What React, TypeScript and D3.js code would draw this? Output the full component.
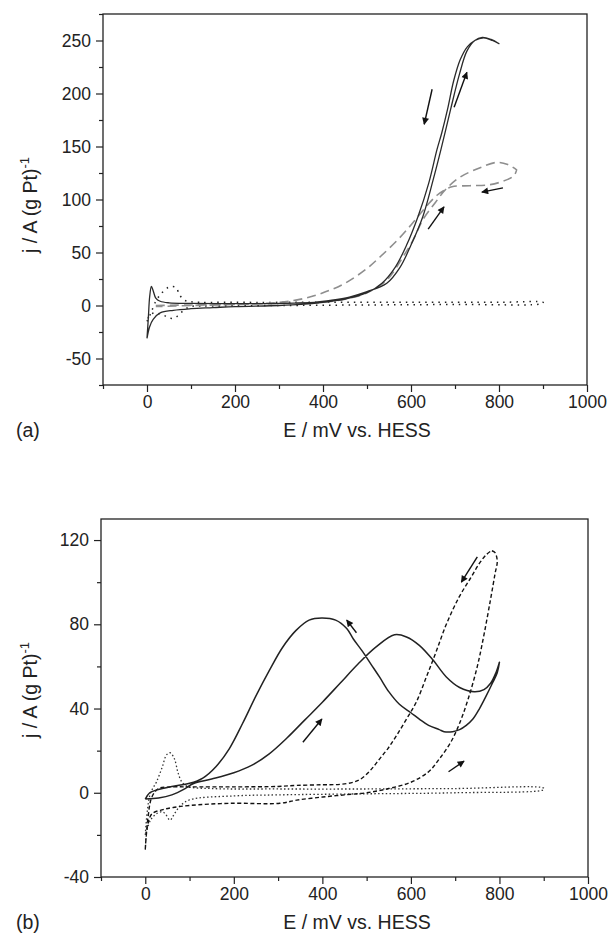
import { useEffect, useRef } from 'react';
import * as d3 from 'd3';

type Pt = [number, number];

// ---- panel (a) : E (mV), j (A/g Pt) ----
const aSolidFwd: Pt[] = [[0, -31], [3, -12], [6, 8], [10, 18], [14, 14], [20, 7], [30, 4], [50, 2.5], [100, 2], [200, 1.8], [300, 2], [380, 3], [420, 5], [460, 8], [500, 13], [545, 21], [575, 36], [600, 57], [627, 84], [650, 118], [668, 147], [690, 185], [710, 218], [727, 240], [745, 250], [762, 253], [782, 251], [800, 247]];
const aSolidBwd: Pt[] = [[800, 247], [785, 250], [765, 252.5], [745, 250], [728, 244], [712, 232], [697, 212], [683, 185], [670, 163], [659, 147], [640, 115], [616, 84], [590, 57], [564, 36], [534, 21], [500, 12], [450, 6], [400, 3], [350, 1], [300, 0], [200, -1], [150, -2], [100, -3], [60, -4.5], [30, -7], [14, -13], [6, -20], [0, -31]];
const aDashFwd: Pt[] = [[20, 0], [100, 0.5], [200, 1], [300, 2], [400, 3], [450, 6], [500, 12], [545, 24], [582, 46], [605, 62], [627, 81], [655, 97], [680, 110], [711, 121], [757, 130], [795, 135], [820, 133], [840, 128]];
const aDashBwd: Pt[] = [[840, 128], [835, 123], [820, 119], [780, 114], [734, 113], [693, 112], [673, 108], [659, 104], [640, 96], [620, 86], [600, 76], [570, 62], [530, 46], [500, 35], [450, 21], [400, 12], [350, 6], [300, 3], [200, 1], [100, 0], [20, -1]];
const aDotFwd: Pt[] = [[0, -15], [8, -8], [20, 4], [34, 12], [48, 17], [57, 18], [66, 17], [74, 10], [85, 5], [100, 3.5], [200, 3], [400, 3], [600, 3], [800, 3], [900, 3]];
const aDotBwd: Pt[] = [[900, 2], [700, 1], [500, 0.5], [300, 0], [150, -0.5], [100, -1], [85, -4], [72, -9], [62, -12], [52, -12], [42, -10], [30, -8], [15, -7], [5, -10], [0, -15]];
// arrows [E0, j0, E1, j1]
const aArrows: [number, number, number, number][] = [[648, 204, 630, 171], [698, 187, 727, 220], [639, 72, 675, 93], [809, 111, 761, 107]];

// ---- panel (b) ----
const bSolidFwd: Pt[] = [[0, -3], [30, -2.5], [60, -1], [90, 2], [108, 4.3], [150, 6.5], [200, 9.5], [240, 13], [280, 18.5], [320, 26], [360, 34.5], [400, 43], [440, 52], [480, 61], [520, 69], [563, 75], [590, 74], [619, 70], [650, 63], [680, 55], [710, 50], [743, 48], [765, 49], [780, 52], [792, 57], [800, 62]];
const bSolidBwd: Pt[] = [[800, 62], [795, 57], [784, 52], [770, 46], [755, 40], [740, 35], [725, 32], [710, 30], [694, 29], [675, 29], [664, 30], [640, 32], [619, 35], [600, 38], [574, 42], [550, 48], [529, 55], [510, 61], [491, 67], [470, 73], [455, 78], [430, 82], [399, 83], [370, 82], [340, 77], [310, 69], [280, 58], [250, 46], [220, 33], [190, 21], [160, 12.5], [130, 7], [100, 4.5], [60, 3], [27, 1.4], [10, 0], [0, -3]];
const bDashFwd: Pt[] = [[0, -27], [5, -16], [15, -10], [40, -8], [63, -7], [101, -6], [191, -5], [304, -5], [342, -3.5], [401, -2], [450, -1], [500, 0], [550, 2], [600, 5], [640, 10], [664, 16], [690, 24], [710, 33], [730, 45], [750, 60], [765, 75], [780, 92], [790, 104], [795, 110], [790, 114], [782, 115]];
const bDashBwd: Pt[] = [[782, 115], [770, 113], [755, 109], [735, 102], [709, 93], [680, 80], [657, 67], [635, 55], [612, 43], [590, 35], [567, 27], [548, 21], [529, 16], [510, 11], [490, 7], [470, 5], [440, 4], [400, 3.8], [342, 3.5], [300, 3], [200, 2.8], [100, 2.8], [50, 2.7], [30, 2], [15, -2], [6, -12], [0, -27]];
const bDotFwd: Pt[] = [[0, -20], [5, -8], [12, 0], [25, 5], [38, 12], [48, 18], [56, 19], [66, 16], [74, 9.5], [83, 5], [95, 3], [150, 2], [300, 1.8], [500, 1.8], [700, 2], [900, 2.2]];
const bDotBwd: Pt[] = [[900, 1.5], [700, 0], [500, -0.5], [300, -1], [200, -1.5], [101, -3.3], [80, -6], [72, -8], [63, -11], [56, -13], [45, -10], [38, -9], [25, -10], [12, -13], [0, -20]];
const bArrows: [number, number, number, number][] = [[356, 24, 399, 35], [477, 76, 455, 82], [750, 112, 714, 100], [685, 10, 720, 15]];

// ---- axes ----
const xTicks = [0, 200, 400, 600, 800, 1000];
const xMinor = [-100, 100, 300, 500, 700, 900];
const aYTicks = [-50, 0, 50, 100, 150, 200, 250];
const aYMinor = [-75, -25, 25, 75, 125, 175, 225, 275];
const bYTicks = [-40, 0, 40, 80, 120];
const bYMinor = [-20, 20, 60, 100];

const FONT = "'Liberation Sans', Arial, Helvetica, sans-serif";

export default function App() {
  const svgRef = useRef<SVGSVGElement>(null);

  useEffect(() => {
    const svg = d3.select(svgRef.current);
    svg.selectAll('*').remove();

    svg.append('defs').append('marker')
      .attr('id', 'head')
      .attr('viewBox', '0 0 10 10')
      .attr('refX', 9).attr('refY', 5)
      .attr('markerWidth', 9).attr('markerHeight', 7)
      .attr('markerUnits', 'userSpaceOnUse')
      .attr('orient', 'auto')
      .append('path').attr('d', 'M0,0L10,5L0,10Z').attr('fill', '#111');

    const panels = [
      {
        top: 14, bottom: 385, left: 103, right: 587,
        yDomain: [-75, 275], yTicks: aYTicks, yMinor: aYMinor,
        curves: [
          { pts: aDotFwd.concat(aDotBwd), stroke: '#222', width: 1.5, dash: '1.5,5' },
          { pts: aDashFwd.concat(aDashBwd), stroke: '#8e8e8e', width: 1.6, dash: '9,5' },
          { pts: aSolidFwd.concat(aSolidBwd), stroke: '#2a2a2a', width: 1.3, dash: null },
        ],
        arrows: aArrows, label: '(a)', yTitleY: 205,
      },
      {
        top: 519, bottom: 877, left: 101, right: 588,
        yDomain: [-40, 130], yTicks: bYTicks, yMinor: bYMinor,
        curves: [
          { pts: bDotFwd.concat(bDotBwd), stroke: '#333', width: 1.3, dash: '1.5,2.3' },
          { pts: bDashFwd.concat(bDashBwd), stroke: '#111', width: 1.4, dash: '4,2.5' },
          { pts: bSolidFwd.concat(bSolidBwd), stroke: '#222', width: 1.5, dash: null },
        ],
        arrows: bArrows, label: '(b)', yTitleY: 690,
      },
    ];

    const fmt = (d: d3.NumberValue) => String(d);

    panels.forEach(p => {
      const x = d3.scaleLinear().domain([-100, 1000]).range([p.left, p.right]);
      const y = d3.scaleLinear().domain(p.yDomain).range([p.bottom, p.top]);
      const g = svg.append('g');

      const line = d3.line<Pt>()
        .x(d => x(d[0]))
        .y(d => y(d[1]))
        .curve(d3.curveCatmullRom.alpha(0.5));

      p.curves.forEach(c => {
        g.append('path')
          .attr('d', line(c.pts))
          .attr('fill', 'none')
          .attr('stroke', c.stroke)
          .attr('stroke-width', c.width)
          .attr('stroke-dasharray', c.dash)
          .attr('stroke-linejoin', 'round');
      });

      p.arrows.forEach(a => {
        g.append('line')
          .attr('x1', x(a[0])).attr('y1', y(a[1]))
          .attr('x2', x(a[2])).attr('y2', y(a[3]))
          .attr('stroke', '#111').attr('stroke-width', 1.4)
          .attr('marker-end', 'url(#head)');
      });

      // frame
      g.append('rect')
        .attr('x', p.left).attr('y', p.top)
        .attr('width', p.right - p.left).attr('height', p.bottom - p.top)
        .attr('fill', 'none').attr('stroke', '#222').attr('stroke-width', 1.3);

      // x axis
      const xa = g.append('g').attr('transform', `translate(0,${p.bottom})`);
      xa.call(d3.axisBottom(x).tickValues(xTicks).tickSize(7).tickPadding(4).tickFormat(fmt));
      xa.append('g').call(d3.axisBottom(x).tickValues(xMinor).tickSize(4).tickFormat(() => ''));
      xa.selectAll('.domain').remove();
      xa.selectAll('text').attr('font-size', 17.5).attr('font-family', FONT).attr('fill', '#222');
      xa.selectAll('line').attr('stroke', '#222').attr('stroke-width', 1.2);

      // y axis
      const ya = g.append('g').attr('transform', `translate(${p.left},0)`);
      ya.call(d3.axisLeft(y).tickValues(p.yTicks).tickSize(7).tickPadding(5).tickFormat(fmt));
      ya.append('g').call(d3.axisLeft(y).tickValues(p.yMinor).tickSize(4).tickFormat(() => ''));
      ya.selectAll('.domain').remove();
      ya.selectAll('text').attr('font-size', 17.5).attr('font-family', FONT).attr('fill', '#222');
      ya.selectAll('line').attr('stroke', '#222').attr('stroke-width', 1.2);

      // titles
      g.append('text')
        .attr('x', 357).attr('y', p.bottom + 52)
        .attr('text-anchor', 'middle')
        .attr('font-size', 19.5).attr('font-family', FONT).attr('fill', '#222')
        .text('E / mV vs. HESS');

      const yt = g.append('text')
        .attr('transform', `translate(37,${p.yTitleY}) rotate(-90)`)
        .attr('text-anchor', 'middle')
        .attr('font-size', 19.5).attr('font-family', FONT).attr('fill', '#222');
      yt.append('tspan').text('j / A (g Pt)');
      yt.append('tspan').attr('dy', -8).attr('font-size', 13).text('-1');

      g.append('text')
        .attr('x', 16).attr('y', p.bottom + 52)
        .attr('font-size', 19.5).attr('font-family', FONT).attr('fill', '#222')
        .text(p.label);
    });
  }, []);

  return (
    <svg ref={svgRef} width={608} height={943}
      style={{ position: 'absolute', left: 0, top: 0, background: '#fff' }} />
  );
}
